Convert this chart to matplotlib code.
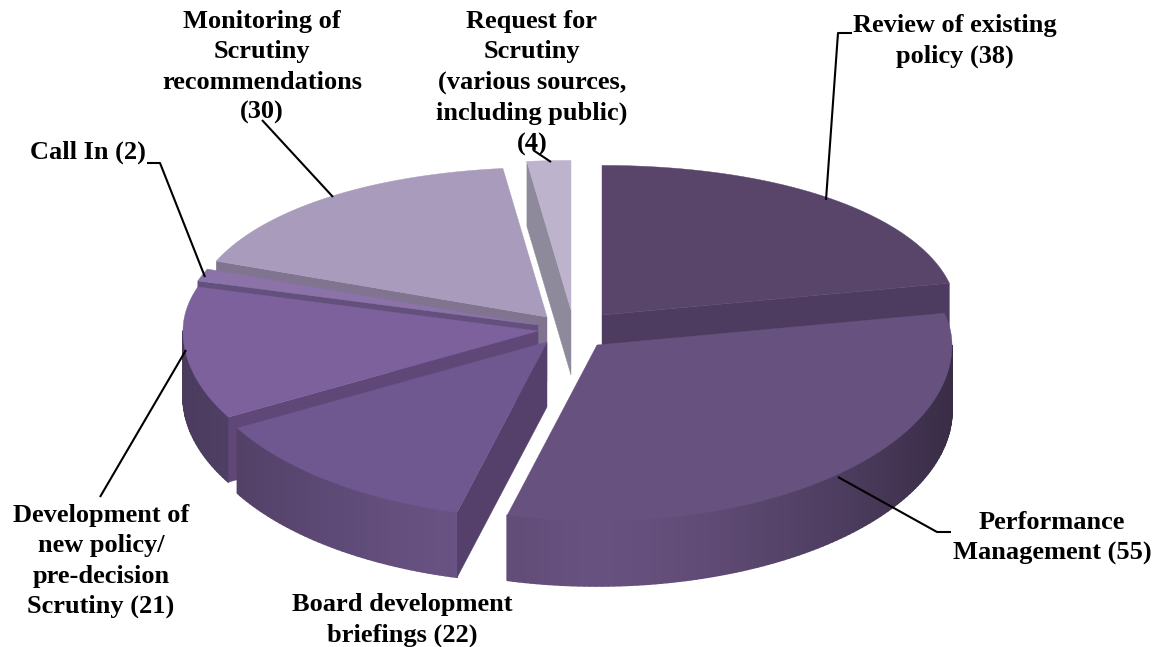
import numpy as np
import matplotlib
matplotlib.use('Agg')
import matplotlib.pyplot as plt
from matplotlib.collections import PolyCollection
from matplotlib.patches import Polygon

labels = ['Review of existing\npolicy (38)', 'Performance\nManagement (55)',
          'Board development\nbriefings (22)',
          'Development of\nnew policy/\npre-decision\nScrutiny (21)',
          'Call In (2)', 'Monitoring of\nScrutiny\nrecommendations\n(30)',
          'Request for\nScrutiny\n(various sources,\nincluding public)\n(4)']
values = [38, 55, 22, 21, 2, 30, 4]

# styles and placement, one entry per slice
apex_x = [602, 597, 547, 538, 538, 547, 571]
apex_y = [315, 345, 342, 331, 325, 317, 310]
top_cols = ['#584569', '#67517f', '#6f5890', '#7d619c', '#8b72a8', '#a99bbb', '#bdb3cd']
face_cols = ['#4d3c60', '#5b4672', '#54406b', '#5f4877', '#64507c', '#807490', '#8e8a9b']
arc_cols = ['#4d3c60', '#67517f', '#6d5689', '#6a5485', '#64507c', '#807490', '#8e8a9b']
arc_shade = [0, 0.45, 0.3, 0.3, 0, 0, 0]
label_xy = [(955, 41), (1052, 538), (402, 620), (101, 561), (88, 152), (262, 67), (532, 83)]
leaders = [[(852, 33), (838, 33), (826, 200)], [(838, 477), (937, 532), (951, 532)],
           [], [(100, 497), (186, 350)], [(147, 163), (160, 163), (205, 277)],
           [(262, 120), (333, 197)], [(533, 150), (551, 162)]]
draw_order = [0, 6, 5, 4, 3, 2, 1]

RX, RY, DEPTH = 355, 176, 65


def project(ang, ax0, ay0):
    u, v = np.sin(ang), np.cos(ang)
    s = 1 - 0.15*np.clip(v, 0, 1)**2  # back of the disc shrinks
    return ax0 + RX*u*s, ay0 - RY*v*s


def shade(col, f):
    rgb = np.array(matplotlib.colors.to_rgb(col))
    return tuple(rgb*f)


fig = plt.figure(figsize=(11.59, 6.47), dpi=100)
ax = fig.add_axes([0, 0, 1, 1])
ax.set_xlim(0, 1159)
ax.set_ylim(647, 0)
ax.axis('off')

edges = np.concatenate([[0], np.cumsum(values)])/np.sum(values)*2*np.pi

z = 2
for i in draw_order:
    th = np.linspace(edges[i], edges[i+1], max(int((edges[i+1]-edges[i])*60), 4))
    xs, ys = project(th, apex_x[i], apex_y[i])
    a = (apex_x[i], apex_y[i])
    # outer wall, only the part facing the viewer
    quads, cols = [], []
    for j in range(len(th)-1):
        mid = (th[j]+th[j+1])/2
        if np.cos(mid) > 0:
            continue
        quads.append([(xs[j], ys[j]), (xs[j+1], ys[j+1]),
                      (xs[j+1], ys[j+1]+DEPTH), (xs[j], ys[j]+DEPTH)])
        cols.append(shade(arc_cols[i], 1-arc_shade[i]*abs(np.sin(mid))**1.5))
    if quads:
        ax.add_collection(PolyCollection(quads, facecolors=cols, edgecolors=cols, linewidths=1.2, zorder=z))
    z += 1
    # radial walls that can be seen
    if np.sin(edges[i]) < -1e-6:
        x1, y1 = xs[0], ys[0]
    elif np.sin(edges[i+1]) > 1e-6:
        x1, y1 = xs[-1], ys[-1]
    else:
        x1 = None
    if x1 is not None:
        ax.add_patch(Polygon([a, (x1, y1), (x1, y1+DEPTH), (a[0], a[1]+DEPTH)],
                             fc=face_cols[i], ec=face_cols[i], lw=0.3, zorder=z))
    z += 1
    ax.add_patch(Polygon([a] + list(zip(xs, ys)), fc=top_cols[i], ec=top_cols[i], lw=0.3, zorder=z))
    z += 1

for pts in leaders:
    if pts:
        ax.plot(*zip(*pts), color='black', lw=1.5, zorder=50, solid_capstyle='butt')

for lab, (x, y) in zip(labels, label_xy):
    ax.text(x, y, lab, ha='center', va='center', multialignment='center',
            family='Liberation Serif', weight='bold', fontsize=19, linespacing=1.415, zorder=60)

fig.savefig('out.png', dpi=100)
